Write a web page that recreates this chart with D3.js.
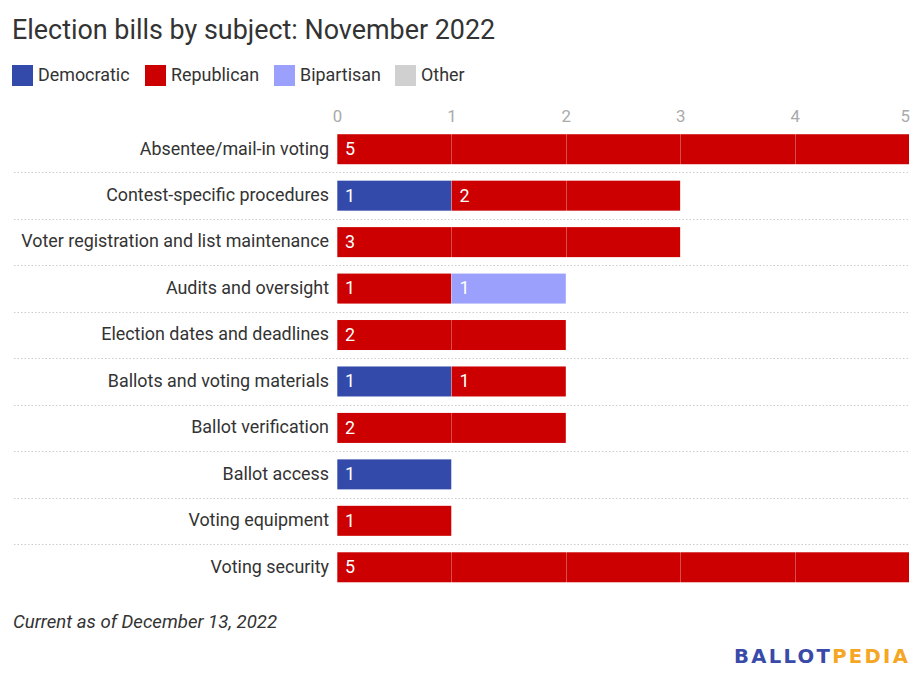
<!DOCTYPE html>
<html>
<head>
<meta charset="utf-8">
<script src="https://cdn.jsdelivr.net/npm/d3@7"></script>
<style>
  html, body { margin: 0; padding: 0; background: #fff; }
  svg { display: block; font-family: Roboto, "Noto Sans", sans-serif; }
</style>
</head>
<body>
<svg id="chart" width="916" height="682"></svg>
<script>
const categories = [
  "Absentee/mail-in voting",
  "Contest-specific procedures",
  "Voter registration and list maintenance",
  "Audits and oversight",
  "Election dates and deadlines",
  "Ballots and voting materials",
  "Ballot verification",
  "Ballot access",
  "Voting equipment",
  "Voting security"
];
const seriesNames = ["Democratic", "Republican", "Bipartisan", "Other"];
const democratic = [0, 1, 0, 0, 0, 1, 0, 1, 0, 0];
const republican = [5, 2, 3, 1, 2, 1, 2, 0, 1, 5];
const bipartisan = [0, 0, 0, 1, 0, 0, 0, 0, 0, 0];
const other      = [0, 0, 0, 0, 0, 0, 0, 0, 0, 0];
const tickValues = [0, 1, 2, 3, 4, 5];
const colors = ["#334aab", "#cc0000", "#9ba0fc", "#d0d0d0"];

const title = "Election bills by subject: November 2022";
const footnote = "Current as of December 13, 2022";

const table = categories.map((c, i) => ({
  category: c,
  Democratic: democratic[i],
  Republican: republican[i],
  Bipartisan: bipartisan[i],
  Other: other[i]
}));

const svg = d3.select("#chart");

// Title
svg.append("text")
  .attr("x", 12).attr("y", 39)
  .attr("font-size", 26.9)
  .attr("fill", "#333")
  .text(title);

// Legend
const legendX = [12, 145, 274, 395];
const lg = svg.append("g");
seriesNames.forEach((s, i) => {
  lg.append("rect")
    .attr("x", legendX[i]).attr("y", 65)
    .attr("width", 21).attr("height", 21)
    .attr("fill", colors[i]);
  lg.append("text")
    .attr("x", legendX[i] + 26).attr("y", 81)
    .attr("font-size", 17.9)
    .attr("fill", "#333")
    .text(s);
});

// Scales
const x = d3.scaleLinear().domain([0, 5]).range([337, 909]);
const y = d3.scaleBand().domain(categories)
  .range([126, 590.5]).paddingInner(0.354).paddingOuter(0.177);

// Separators between rows
const step = y.step();
const gap = step * y.paddingInner();
svg.append("g").selectAll("line")
  .data(categories.slice(1))
  .join("line")
  .attr("x1", 14).attr("x2", 910)
  .attr("y1", d => Math.round(y(d) - gap / 2) + 0.5)
  .attr("y2", d => Math.round(y(d) - gap / 2) + 0.5)
  .attr("stroke", "#cccccc")
  .attr("stroke-width", 1)
  .attr("stroke-dasharray", "1.5,2");

// Axis tick labels (top)
const axis = d3.axisTop(x).tickValues(tickValues).tickSize(0).tickPadding(0).tickFormat(d3.format("d"));
const axG = svg.append("g").attr("transform", "translate(0,122)").call(axis);
axG.select(".domain").remove();
axG.selectAll("text")
  .attr("font-size", 16.8)
  .attr("font-family", "Roboto, sans-serif")
  .attr("fill", "#aaaaaa")
  .attr("dy", 0)
  .attr("text-anchor", d => d === 5 ? "end" : "middle")
  .attr("dx", d => d === 5 ? 0.5 : 0);

// Category labels
svg.append("g").selectAll("text")
  .data(categories)
  .join("text")
  .attr("x", 329)
  .attr("y", d => y(d) + y.bandwidth() / 2)
  .attr("dy", "0.3em")
  .attr("text-anchor", "end")
  .attr("font-size", 17.9)
  .attr("fill", "#333")
  .text(d => d);

// Stacked bars
const stack = d3.stack().keys(seriesNames);
const stacked = stack(table);
const barsG = svg.append("g");
stacked.forEach((layer, li) => {
  const g = barsG.append("g").attr("fill", colors[li]);
  g.selectAll("rect")
    .data(layer.filter(d => d[1] - d[0] > 0))
    .join("rect")
    .attr("x", d => x(d[0]))
    .attr("y", d => y(d.data.category))
    .attr("width", d => x(d[1]) - x(d[0]))
    .attr("height", y.bandwidth());
});

// Gridlines over bars (white translucent)
svg.append("g").selectAll("line")
  .data(tickValues)
  .join("line")
  .attr("x1", d => Math.round(x(d)) + 0.5)
  .attr("x2", d => Math.round(x(d)) + 0.5)
  .attr("y1", y.range()[0])
  .attr("y2", y.range()[1])
  .attr("stroke", "rgba(255,255,255,0.3)")
  .attr("stroke-width", 1);

// Value labels
const labG = svg.append("g");
stacked.forEach((layer) => {
  labG.selectAll(null)
    .data(layer.filter(d => d[1] - d[0] > 0))
    .join("text")
    .attr("x", d => x(d[0]) + 8)
    .attr("y", d => y(d.data.category) + y.bandwidth() / 2)
    .attr("dy", "0.33em")
    .attr("font-size", 17.9)
    .attr("fill", "#fff")
    .text(d => d[1] - d[0]);
});

// Footnote
svg.append("text")
  .attr("x", 13).attr("y", 628)
  .attr("font-size", 18.6)
  .attr("font-style", "italic")
  .attr("fill", "#333")
  .text(footnote);

// Logo
const logo = svg.append("text")
  .attr("x", 734).attr("y", 662.5)
  .attr("font-family", "'DejaVu Sans', sans-serif")
  .attr("font-size", 19.6)
  .attr("font-weight", "bold")
  .attr("letter-spacing", 2.3);
logo.append("tspan").attr("fill", "#3a4aa8").text("BALLOT");
logo.append("tspan").attr("fill", "#f5a623").text("PEDIA");
</script>
</body>
</html>
